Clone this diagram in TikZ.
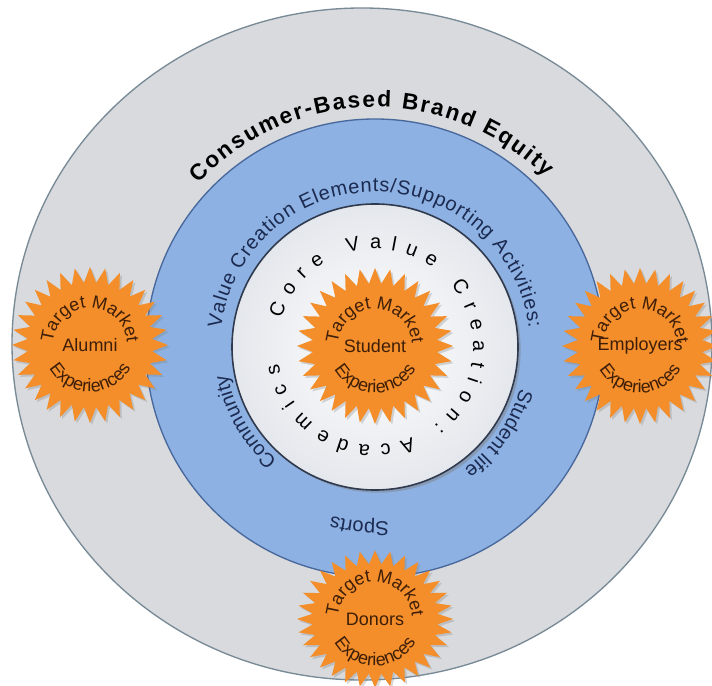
\documentclass[tikz,border=0pt]{standalone}
\usepackage{fontspec}
\setmainfont{Liberation Sans}
\usetikzlibrary{decorations.text,shapes.geometric,shadows}

\definecolor{equitygray}{RGB}{216,218,221}
\definecolor{equityedge}{RGB}{120,138,150}
\definecolor{valueblue}{RGB}{140,177,226}
\definecolor{valueedge}{RGB}{72,104,156}
\definecolor{corefill}{RGB}{228,231,236}
\definecolor{coreedge}{RGB}{48,58,78}
\definecolor{burstorange}{RGB}{243,142,42}
\definecolor{bursttext}{RGB}{62,30,8}
\definecolor{valuetext}{RGB}{28,42,80}

\newcommand\brandfont{\fontsize{17}{20}\selectfont\bfseries}
\newcommand\valuefont{\fontsize{15}{18}\selectfont}
\newcommand\burstfont{\fontsize{13.5}{16}\selectfont}

\tikzset{
  burst/.style={star, star points=32, star point ratio=1.25, minimum size=117pt,
    inner sep=0pt, fill=burstorange,
    drop shadow={opacity=0.3, shadow xshift=1.5pt, shadow yshift=-1.5pt}},
  ringtext/.style={decorate, decoration={text along path, text align=center,
    text color=valuetext, text={|\valuefont|#1}}}
}

\newcommand\targetlabels[2]{%
  \path[decorate, decoration={text along path, text align=center, text color=bursttext,
    text={|\burstfont|Target Market}}] (#1) ++(175:37) arc[start angle=175, end angle=5, radius=37];
  \node[font=\burstfont, text=bursttext] (#1-group) at (#1) {#2};
  \path[decorate, decoration={text along path, text align=center, text color=bursttext,
    text={|\burstfont|Experiences}}] (#1) ++(195:47) arc[start angle=195, end angle=345, radius=47];}

\begin{document}
\begin{tikzpicture}[x=0.75pt, y=0.75pt]
  \useasboundingbox (0,0) rectangle (712,685);
  \fill[white] (0,0) rectangle (712,685);
  \coordinate (brand) at (362,341);
  \coordinate (value) at (375,337);
  \coordinate (core) at (375,338);
  \draw[equityedge, fill=equitygray, line width=1pt] (brand) ellipse [x radius=350, y radius=336];
  \draw[valueedge, fill=valueblue, line width=1pt] (value) circle (229);
  \draw[coreedge, line width=1.2pt, inner color=white, outer color=corefill,
    drop shadow={opacity=0.45, shadow xshift=2pt, shadow yshift=-2pt}] (core) circle (143);

  \path[decorate, decoration={text along path, text align={fit to path},
    text={|\brandfont|Consumer-Based Brand Equity}}] (value) ++(137:241) arc[start angle=137, end angle=45, radius=241];
  \path[decorate, decoration={text along path, text align={fit to path}, text color=valuetext,
    text={|\valuefont|Value Creation Elements/Supporting Activities:}}] (core) ++(173:155) arc[start angle=173, end angle=7, radius=155];
  \path[ringtext=Student life] (core) ++(-5:151) arc[start angle=-5, end angle=-65, radius=151];
  \path[ringtext=Sports] (core) ++(290:175) arc[start angle=290, end angle=240, radius=175];
  \path[ringtext=Community] (core) ++(245:150) arc[start angle=245, end angle=175, radius=150];
  \path[decorate, decoration={text along path, text align={fit to path},
    text={|\valuefont|Core Value Creation: Academics}}] (core) ++(163:98) arc[start angle=163, end angle=-170, radius=98];

  \node[burst] (student) at (375,339) {};
  \node[burst] (alumni) at (90,340) {};
  \node[burst] (employers) at (640,339) {};
  \begin{scope}[shift={(375,66)}, yscale=0.88]
    \node[burst, transform shape] (donors) at (0,0) {};
  \end{scope}
  \targetlabels{student}{Student}
  \targetlabels{alumni}{Alumni}
  \targetlabels{employers}{Employers}
  \targetlabels{donors}{Donors}
\end{tikzpicture}
\end{document}
